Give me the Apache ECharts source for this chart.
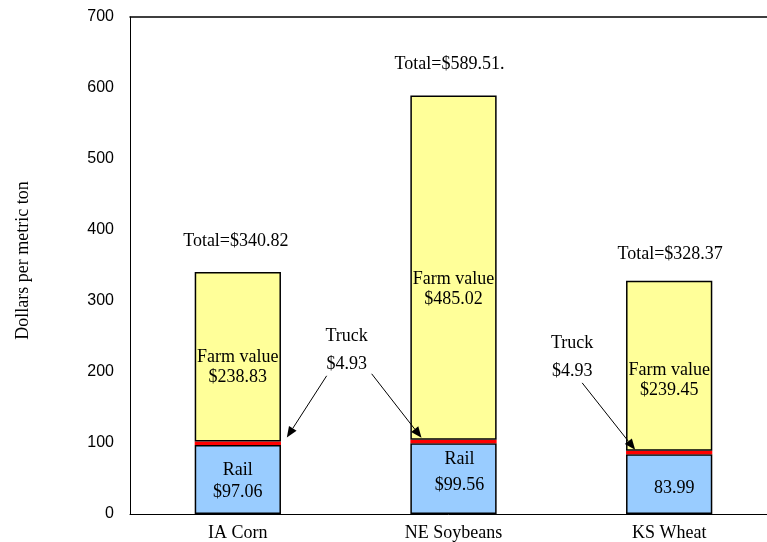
<!DOCTYPE html>
<html><head><meta charset="utf-8">
<script src="https://cdn.jsdelivr.net/npm/echarts@6/dist/echarts.min.js"></script>
<style>html,body{margin:0;padding:0;background:#fff}#c{width:767px;height:542px}</style>
</head><body><div id="c"></div>
<script>
const categories = ['IA Corn', 'NE Soybeans', 'KS Wheat'];
const railValues = [97.06, 99.56, 83.99];
const truckValues = [4.93, 4.93, 4.93];
const farmValues = [238.83, 485.02, 239.45];
const totalValues = [340.82, 589.51, 328.37];
const railLabels = ['Rail\n$97.06', 'Rail\n\n$99.56', '83.99'];
const farmLabels = ['Farm value\n$238.83', 'Farm value\n$485.02', 'Farm value\n$239.45'];
const totalLabels = ['Total=$340.82', 'Total=$589.51.', 'Total=$328.37'];
const truckLabel = ['Truck', '$4.93'];
const yTicks = [0, 100, 200, 300, 400, 500, 600, 700];

const SERIF = '"Liberation Serif","Times New Roman",serif';
const SANS = '"Liberation Sans",Arial,sans-serif';
const FS = 18;
const border = {borderColor: '#000', borderWidth: 1.5};

const chart = echarts.init(document.getElementById('c'));
const railOffsets = [[0, 2], [6, -6], [5, 4]];
const farmOffsets = [[0, 10], [0, 22], [0, 14]];
const totalOffsets = [[-2, 0], [-4, 0], [1, 4]];

chart.setOption({
  animation: false,
  grid: {left: 130, width: 647, top: 17, bottom: 28, show: false, outerBoundsMode: 'none', containLabel: false},
  xAxis: [{
    type: 'category', data: categories,
    axisLine: {lineStyle: {color: '#000', width: 1}},
    axisTick: {show: false},
    axisLabel: {fontFamily: SERIF, fontSize: FS, color: '#000', margin: 10}
  }, {
    type: 'category', data: categories, position: 'top',
    axisLine: {show: true, lineStyle: {color: '#000', width: 1.5}},
    axisTick: {show: false}, axisLabel: {show: false}
  }],
  yAxis: {
    type: 'value', min: yTicks[0], max: yTicks[yTicks.length - 1], interval: 100,
    name: 'Dollars per metric ton', nameLocation: 'middle', nameGap: 98,
    nameTextStyle: {fontFamily: SERIF, fontSize: FS, color: '#000', padding: [0, 0, 0, 10]},
    axisLine: {show: true, lineStyle: {color: '#000', width: 1}},
    axisTick: {show: false},
    splitLine: {show: false},
    axisLabel: {fontFamily: SANS, fontSize: 16, color: '#000', margin: 16}
  },
  series: [
    {type: 'bar', stack: 'a', barWidth: '40%', name: 'Rail',
     itemStyle: Object.assign({color: '#99CCFF'}, border),
     data: railValues.map((v, i) => ({value: v, label: {show: true, position: 'inside', formatter: railLabels[i], offset: railOffsets[i], fontFamily: SERIF, fontSize: FS, color: '#000', lineHeight: i === 1 ? 13 : 22}}))},
    {type: 'bar', stack: 'a', name: 'Truck',
     itemStyle: {color: '#FF0000', borderWidth: 0},
     data: truckValues},
    {type: 'bar', stack: 'a', name: 'Farm value',
     itemStyle: Object.assign({color: '#FFFF99'}, border),
     data: farmValues.map((v, i) => ({value: v, label: {show: true, position: 'inside', formatter: farmLabels[i], offset: farmOffsets[i], fontFamily: SERIF, fontSize: FS, color: '#000', lineHeight: 20}}))},
    {type: 'scatter', symbolSize: 0, silent: true, itemStyle: {opacity: 1},
     data: totalValues.map((v, i) => ({value: [i, v], label: {show: true, position: 'top', distance: 22, formatter: totalLabels[i], offset: totalOffsets[i], fontFamily: SERIF, fontSize: FS, color: '#000', opacity: 1}}))}
  ]
});

// Truck annotations with arrows (anchored to data positions)
function px(i, v) { return chart.convertToPixel({gridIndex: 0}, [i, v]); }
function arrow(x1, y1, x2, y2) {
  const ang = Math.atan2(y2 - y1, x2 - x1), L = 11, W = 4.5;
  const bx = x2 - L * Math.cos(ang), by = y2 - L * Math.sin(ang);
  const nx = -Math.sin(ang), ny = Math.cos(ang);
  return [
    {type: 'line', z: 100, shape: {x1: x1, y1: y1, x2: bx, y2: by}, style: {stroke: '#000', lineWidth: 1}},
    {type: 'polygon', z: 100, shape: {points: [[x2, y2], [bx + nx * W, by + ny * W], [bx - nx * W, by - ny * W]]}, style: {fill: '#000'}}
  ];
}
const g = [];
const top0 = px(0, railValues[0] + truckValues[0]);
const top1 = px(1, railValues[1] + truckValues[1]);
const top2 = px(2, railValues[2] + truckValues[2]);
const t1x = (top0[0] + top1[0]) / 2 + 1, t1y = top1[1] - 104;
const tf = FS + 'px ' + SERIF;
g.push({type: 'text', z: 100, x: t1x, y: t1y, style: {text: truckLabel[0], font: tf, fill: '#000', align: 'center', verticalAlign: 'middle'}});
g.push({type: 'text', z: 100, x: t1x, y: t1y + 28, style: {text: truckLabel[1], font: tf, fill: '#000', align: 'center', verticalAlign: 'middle'}});
g.push(...arrow(t1x - 20, t1y + 40, top0[0] + 49, top0[1] - 4));
g.push(...arrow(t1x + 25, t1y + 38, top1[0] - 32, top1[1] - 2));
const t2x = top2[0] - 97, t2y = top2[1] - 108;
g.push({type: 'text', z: 100, x: t2x, y: t2y, style: {text: truckLabel[0], font: tf, fill: '#000', align: 'center', verticalAlign: 'middle'}});
g.push({type: 'text', z: 100, x: t2x, y: t2y + 28, style: {text: truckLabel[1], font: tf, fill: '#000', align: 'center', verticalAlign: 'middle'}});
g.push(...arrow(t2x + 10, t2y + 40, top2[0] - 34, top2[1] - 1));
chart.setOption({graphic: g});
</script>
</body></html>
